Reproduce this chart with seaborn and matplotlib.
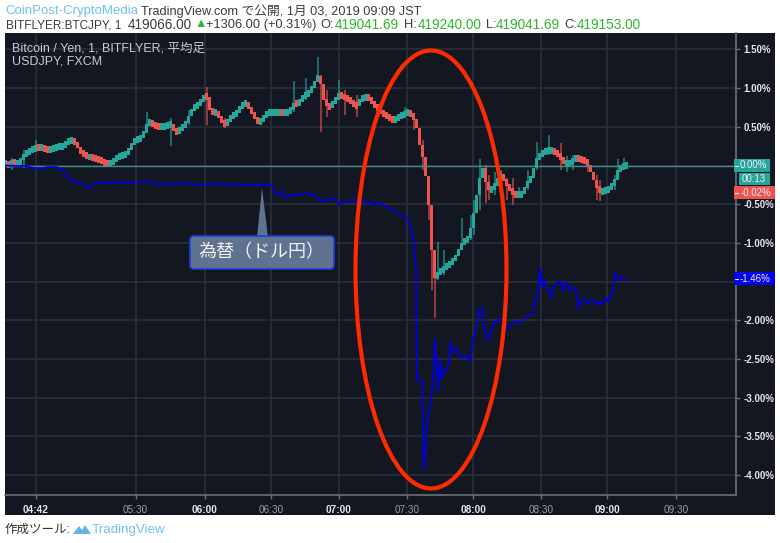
import numpy as np
import pandas as pd
import matplotlib
matplotlib.use("Agg")
import matplotlib.pyplot as plt
from matplotlib.patches import Ellipse, FancyBboxPatch, Polygon, Rectangle
import seaborn as sns

# BTCJPY heikin ashi closes in % (one bar per candle)
closes = [0.03, -0.01, 0.06, 0.01, 0.03, 0.07, 0.15, 0.16, 0.20, 0.21, 0.24, 0.23, 0.23, 0.21, 0.20, 0.21,
          0.23, 0.24, 0.25, 0.25, 0.29, 0.32, 0.32, 0.30, 0.23, 0.16, 0.14, 0.11, 0.11, 0.10, 0.08, 0.07,
          0.06, 0.03, 0.01, 0.03, 0.07, 0.11, 0.12, 0.14, 0.15, 0.20, 0.29, 0.32, 0.34, 0.37, 0.42, 0.54,
          0.56, 0.52, 0.51, 0.50, 0.50, 0.51, 0.52, 0.54, 0.45, 0.42, 0.48, 0.50, 0.56, 0.64, 0.72, 0.77,
          0.79, 0.83, 0.90, 0.89, 0.72, 0.68, 0.68, 0.64, 0.56, 0.52, 0.59, 0.63, 0.65, 0.69, 0.76, 0.79,
          0.81, 0.73, 0.68, 0.60, 0.56, 0.57, 0.65, 0.68, 0.68, 0.69, 0.69, 0.69, 0.68, 0.68, 0.69, 0.72,
          0.81, 0.78, 0.85, 0.89, 0.91, 0.95, 1.01, 1.08, 1.16, 1.05, 0.85, 0.77, 0.76, 0.81, 0.87, 0.91,
          0.90, 0.87, 0.85, 0.82, 0.79, 0.77, 0.85, 0.87, 0.89, 0.86, 0.81, 0.77, 0.74, 0.69, 0.65, 0.63,
          0.61, 0.59, 0.60, 0.65, 0.65, 0.68, 0.68, 0.67, 0.60, 0.48, 0.26, 0.11, -0.14, -0.51, -1.09, -1.45,
          -1.38, -1.36, -1.32, -1.29, -1.26, -1.22, -1.17, -1.09, -1.00, -0.96, -0.94, -0.81, -0.61, -0.38,
          -0.16, -0.03, -0.21, -0.32, -0.29, -0.26, -0.16, -0.11, -0.19, -0.26, -0.32, -0.36, -0.38, -0.38,
          -0.36, -0.29, -0.21, -0.16, -0.03, 0.10, 0.14, 0.17, 0.19, 0.20, 0.20, 0.17, 0.14, 0.10, 0.03,
          0.03, 0.03, 0.07, 0.10, 0.08, 0.07, 0.06, 0.01, -0.08, -0.19, -0.29, -0.34, -0.33, -0.32, -0.29,
          -0.26, -0.19, -0.06, -0.02, -0.01, 0.01]

# the longer wicks only
wick_bars = [2, 6, 10, 47, 55, 61, 67, 73, 96, 100, 104, 105, 107, 111, 113, 117, 133, 136, 139, 141, 142, 143,
             144, 146, 152, 155, 156, 158, 160, 161, 163, 165, 167, 169, 171, 174, 177, 181, 185, 187, 189, 194,
             197, 198, 203, 204, 206]
wick_high = [0.10, 0.20, 0.33, 0.69, 0.61, 0.72, 1.01, 0.61, 1.09, 1.13, 1.40, 1.17, 0.98, 1.10, 0.98, 0.91, 0.76,
             0.65, 0.33, -0.32, -0.83, -1.29, -0.99, -1.09, -0.68, -0.64, -0.45, 0.08, 0.01, -0.12, -0.08, -0.06,
             -0.16, -0.16, -0.28, -0.06, 0.30, 0.39, 0.29, 0.12, 0.14, 0.07, -0.12, -0.19, -0.12, 0.08, 0.10]
wick_low = [-0.06, -0.03, 0.20, 0.46, 0.25, 0.52, 0.52, 0.48, 0.69, 0.85, 1.10, 0.43, 0.63, 0.85, 0.65, 0.63, 0.64,
            0.46, -0.06, -0.70, -1.61, -1.97, -1.48, -1.41, -1.09, -0.96, -0.90, -0.57, -0.48, -0.45, -0.38, -0.32,
            -0.45, -0.51, -0.39, -0.32, -0.06, 0.14, -0.06, -0.08, -0.06, -0.08, -0.45, -0.46, -0.32, -0.16, -0.03]

# USDJPY in %
fx_bars = [-0.3, 7, 9, 11.3, 13.7, 17, 18.7, 20.3, 21.7, 22.7, 23.7, 25.7, 27.7, 29, 31.3, 34, 36.3, 38, 39.7, 41.3,
           43, 45.3, 48, 50.3, 52.3, 54.7, 58, 59, 60.7, 62.3, 64.7, 67, 70.3, 72.3, 75.7, 80.3, 83.7, 87.3, 88.7,
           89.7, 90.3, 91.3, 92.3, 93, 94.7, 97, 99, 100.7, 103, 104.7, 107, 108, 110.3, 111, 112.3, 114.7, 117,
           120.3, 123, 124, 125.7, 128, 130.3, 133.7, 134, 135.7, 136.7, 137, 138.7, 139.3, 140.7, 142, 143, 144,
           144.7, 145.3, 146.3, 147, 147.7, 148.3, 149, 150.3, 151.7, 153.7, 154.7, 155.7, 156.7, 157.7, 158.7,
           159.7, 160.7, 162.7, 163.3, 164.3, 165.7, 166, 169, 170.3, 172, 172.7, 175.7, 176.7, 177.3, 178, 178.7,
           179.3, 181.7, 182.3, 184, 185, 185.7, 187, 188, 189.7, 191, 191.7, 193.3, 194, 195.3, 197, 197.7, 198.3,
           200.3, 200.7, 202.3, 203, 204.7, 205.3, 207]
fx_vals = [0, -0.01, -0.03, -0.04, -0.02, -0.02, -0.06, -0.12, -0.20, -0.20, -0.23, -0.23, -0.29, -0.25, -0.21, -0.23,
           -0.21, -0.23, -0.21, -0.23, -0.21, -0.21, -0.21, -0.24, -0.24, -0.24, -0.24, -0.23, -0.23, -0.24, -0.25,
           -0.24, -0.23, -0.25, -0.24, -0.25, -0.25, -0.24, -0.26, -0.36, -0.38, -0.34, -0.34, -0.41, -0.38, -0.38,
           -0.36, -0.36, -0.39, -0.45, -0.45, -0.42, -0.45, -0.51, -0.48, -0.46, -0.45, -0.48, -0.50, -0.48, -0.51,
           -0.55, -0.61, -0.68, -0.70, -0.92, -1.35, -2.77, -2.77, -3.93, -3.25, -2.94, -2.25, -2.90, -2.51, -2.75,
           -2.64, -2.64, -2.51, -2.28, -2.42, -2.38, -2.49, -2.46, -2.54, -2.25, -2.09, -1.85, -1.84, -2.15, -2.25,
           -2.02, -2.03, -1.98, -2.02, -2.16, -2.03, -2.02, -2.02, -1.97, -1.91, -1.71, -1.66, -1.32, -1.57, -1.48,
           -1.70, -1.58, -1.51, -1.49, -1.63, -1.51, -1.60, -1.58, -1.84, -1.76, -1.72, -1.78, -1.74, -1.80, -1.75,
           -1.79, -1.72, -1.76, -1.62, -1.39, -1.48, -1.44, -1.47]

y_ticks = [1.5, 1.0, 0.5, 0.0, -0.5, -1.0, -1.5, -2.0, -2.5, -3.0, -3.5, -4.0]
y_labels = ["1.50%", "1.00%", "0.50%", "", "-0.50%", "-1.00%", "", "-2.00%", "-2.50%", "-3.00%", "-3.50%", "-4.00%"]
x_ticks = [9.9, 43.2, 66.2, 88.3, 111, 133.8, 155.8, 178.5, 200.5, 223.3]
x_labels = ["04:42", "05:30", "06:00", "06:30", "07:00", "07:30", "08:00", "08:30", "09:00", "09:30"]
x_strong = ["04:42", "06:00", "07:00", "08:00", "09:00"]

BG = "#131722"
GRID = "#2a2e39"
UP = "#26a69a"
DOWN = "#ef5350"
GREEN = "#2fb52f"
LATIN = ["Liberation Sans", "Noto Sans CJK JP"]

sns.set_theme(style="dark")
plt.rcParams["font.family"] = LATIN
W, H = 780, 543

fig = plt.figure(figsize=(W / 100, H / 100), dpi=100, facecolor="white")
fig.add_artist(Rectangle((5 / W, 1 - 515 / H), 770 / W, 482 / H, transform=fig.transFigure, color=BG, lw=0, zorder=-1))

ax = fig.add_axes([5 / W, 1 - 495 / H, 730.5 / W, 462 / H], facecolor=BG)

# candles, bodies get a minimum height so they read as a band like in the original
closes = np.array(closes)
opens = np.r_[closes[0], closes[:-1]]
bars = np.arange(len(closes))
colors = [UP if c >= o else DOWN for o, c in zip(opens, closes)]
wick_colors = [colors[i] for i in wick_bars]
ax.vlines(wick_bars, wick_low, wick_high, colors=wick_colors, lw=1.4, alpha=0.6, zorder=3)
heights = np.maximum(np.abs(closes - opens), 0.09)
ax.bar(bars, heights, bottom=(opens + closes - heights) / 2, width=1.0, color=colors, linewidth=0, zorder=4)

ax.axhline(0, color="#3f8f86", lw=1, zorder=5)

fx = pd.DataFrame({"bar": fx_bars, "pct": fx_vals})
sns.lineplot(data=fx, x="bar", y="pct", color="#0000e6", lw=1.3, estimator=None, sort=False, ax=ax, zorder=6)

ax.set_xlim(-0.33, 243.17)
ax.set_ylim(-4.257, 1.712)
ax.set_xlabel("")
ax.set_ylabel("")
ax.yaxis.tick_right()
ax.set_yticks(y_ticks)
ax.set_yticklabels(y_labels, color="#e4e6ea", fontsize=7, fontweight="bold")
ax.set_xticks(x_ticks)
ax.set_xticklabels(x_labels, fontsize=7.2)
for t in ax.get_xticklabels():
    strong = t.get_text() in x_strong
    t.set_fontweight("bold" if strong else "normal")
    t.set_color("#e4e6ea" if strong else "#9a9ea6")
ax.tick_params(axis="both", length=3, width=1, color="#6a6f78", pad=2.5, bottom=True, right=True, left=False)
ax.tick_params(axis="x", pad=4)
ax.grid(True, color=GRID, lw=1.2)
ax.set_axisbelow(True)
for side in ["top", "left"]:
    ax.spines[side].set_visible(False)
for side in ["right", "bottom"]:
    ax.spines[side].set_color("#6a6f78")
    ax.spines[side].set_linewidth(1.2)

# everything the author drew on top, in picture pixels
top = fig.add_axes([0, 0, 1, 1], facecolor="none", zorder=10)
top.set_xlim(0, W)
top.set_ylim(H, 0)
top.axis("off")


def label(x, y, s, color="#3c3c3c", size=9.3, **kw):
    top.text(x, y, s, color=color, fontsize=size, va="center", family=LATIN, **kw)


# header
label(5, 11, "CoinPost-CryptoMedia", color="#6cc3ee", size=9.5)
label(141, 11, "TradingView.com で公開, 1月 03, 2019 09:09 JST", size=9.2)
label(6, 25, "BITFLYER:BTCJPY, 1", size=8.5)
label(128, 25, "419066.00", size=9.8)
label(194, 24, "▲", color=GREEN, size=9)
label(206, 25, "+1306.00 (+0.31%)")
label(320, 25, "O:")
label(335, 25, "419041.69", color=GREEN, size=9.8)
label(404, 25, "H:")
label(418, 25, "419240.00", color=GREEN, size=9.8)
label(486, 25, "L:")
label(496, 25, "419041.69", color=GREEN, size=9.8)
label(564, 25, "C:")
label(577, 25, "419153.00", color=GREEN, size=9.8)

# legend in the panel
label(12, 48.5, "Bitcoin / Yen, 1, BITFLYER, 平均足", color="#c9cbd0", size=9)
label(12, 61.5, "USDJPY, FXCM", color="#c9cbd0", size=9)

# price tags on the right scale
for x0, y0, x1, y1, col, s, tx, dash in [(734, 159, 770, 172, UP, "0.00%", 753, True),
                                         (739, 173, 770, 185, UP, "00:13", 754, False),
                                         (734, 186, 775, 199, DOWN, "-0.02%", 755.5, True),
                                         (734, 272, 775, 285, "#0000f0", "-1.46%", 755.5, True)]:
    top.add_patch(Rectangle((x0, y0), x1 - x0, y1 - y0, color=col, lw=0))
    if dash:
        top.plot([735, 737.5], [(y0 + y1) / 2] * 2, color="#f2f2f2", lw=0.8)
    label(tx, (y0 + y1) / 2, s, color="#f2f2f2", size=7, ha="center")

# red ellipse round the crash
top.add_patch(Ellipse((431, 269.5), 151, 438, fill=False, edgecolor="#ff2a00", lw=3.0))

# callout for the fx line
top.add_patch(Polygon([(257, 237), (262, 188), (268, 237)], closed=True, facecolor="#5f7391", edgecolor="none"))
top.add_patch(FancyBboxPatch((193, 239), 138, 27, boxstyle="round,pad=3,rounding_size=4",
                             facecolor="#5f7391", edgecolor="#1c3fe0", lw=1.2))
label(198, 253, "為替（ドル円）", color="#f0f2f5", size=13)

# footer
label(5, 530, "作成ツール:", color="#333333", size=9)
top.add_patch(Polygon([(73, 534), (79, 526), (82, 530), (85, 525), (91, 534)], closed=True, color="#5db5e8", lw=0))
label(92, 530, "TradingView", color="#6cc3ee", size=9.6)

fig.savefig("out.png", dpi=100, facecolor="white")
